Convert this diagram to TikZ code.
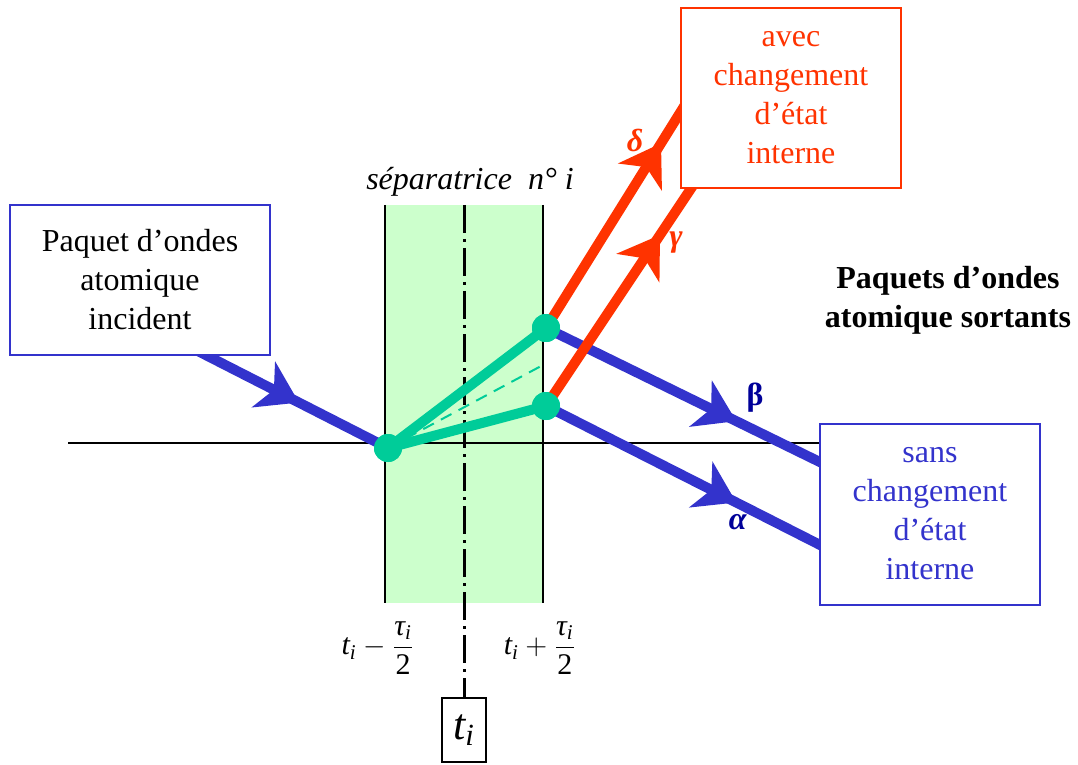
\documentclass[tikz,border=0pt]{standalone}
\usepackage{amsmath}
\usepackage{fontspec}
\setmainfont{Liberation Serif}
\usepackage{xcolor}
\usepackage{tikz}
\usetikzlibrary{arrows.meta, decorations.markings, positioning}
\definecolor{beamblue}{RGB}{51, 51, 204}
\definecolor{beamred}{RGB}{255, 51, 0}
\definecolor{dotgreen}{RGB}{0, 204, 153}
\definecolor{zonegreen}{RGB}{204, 255, 204}
\definecolor{labelblue}{RGB}{0, 0, 153}
\newcommand{\itx}[1]{\text{\itshape #1}}

\begin{document}
\begin{tikzpicture}[x=0.5pt, y=-0.5pt,
        box/.style={draw, fill=white, line width=1pt, minimum width=110pt,
                    minimum height=90pt, align=center, inner sep=0pt,
                    font=\fontsize{16}{19.5}\selectfont},
        dot/.style={circle, fill=dotgreen, minimum size=14pt, inner sep=0pt},
        beam/.style={line width=5pt},
        midarrow/.style={postaction={decorate}, decoration={markings,
            mark=at position #1 with {\arrow{Stealth[length=20pt, width=26pt, inset=6pt, line width=0pt]}}}},
        greek/.style={font=\fontsize{16}{19}\selectfont\bfseries}]
    \useasboundingbox (0,0) rectangle (1078,765);

    % zone of the separatrix
    \fill[zonegreen] (385,205) rectangle (543,603);
    \draw[line width=1pt] (385,205) -- (385,603);
    \draw[line width=1pt] (543,205) -- (543,603);
    \node[font=\fontsize{16}{19}\selectfont\itshape] (septitle) at (470,182)
          {séparatrice~~n°~i};

    \node[draw, line width=1pt, minimum width=22pt, minimum height=32pt,
          inner sep=0pt, font=\fontsize{22}{24}\selectfont] (ti) at (464,730)
          {$\itx{t}_{\itx{i}}$};
    \coordinate (axtop) at (464,205);
    \draw[line width=1.5pt, dash pattern=on 14pt off 3pt on 1.5pt off 3pt]
        (axtop) -- (ti.north);

    \node[font=\fontsize{15}{17}\selectfont] (tminus) at (378,648)
          {$\itx{t}_{\itx{i}} - \dfrac{\itx{τ}_{\itx{i}}}{\text{2}}$};
    \node[font=\fontsize{15}{17}\selectfont] (tplus) at (540,648)
          {$\itx{t}_{\itx{i}} + \dfrac{\itx{τ}_{\itx{i}}}{\text{2}}$};

    \coordinate (axstart) at (68,443);
    \coordinate (axend) at (820,443);
    \draw[line width=1pt] (axstart) -- (axend);

    % wave packets
    \coordinate (inStart) at (190,347);
    \node[dot] (A) at (388,448) {};
    \node[dot] (B) at (546,328) {};
    \node[dot] (C) at (546,406) {};
    \coordinate (outB) at (830,467);
    \coordinate (outA) at (830,550);
    \coordinate (outD) at (688,100);
    \coordinate (outG) at (698,178);

    \draw[beam, beamblue, midarrow=0.55] (inStart) -- (A.center);
    \draw[beam, beamblue, midarrow=0.67] (B.center) -- (outB);
    \draw[beam, beamblue, midarrow=0.67] (C.center) -- (outA);
    \draw[beam, beamred, midarrow=0.81] (B.center) -- (outD);
    \draw[beam, beamred, midarrow=0.75] (C.center) -- (outG);

    \draw[dotgreen, line width=1pt, dash pattern=on 6pt off 4pt] (A.center) -- (543,365);
    \draw[dotgreen, beam] (A.center) -- (B.center);
    \draw[dotgreen, beam] (A.center) -- (C.center);
    \node[dot] at (A) {};
    \node[dot] at (B) {};
    \node[dot] at (C) {};

    \node[box, draw=beamblue, minimum width=130pt, minimum height=75pt] (incident)
          at (140,280) {Paquet d’ondes\\atomique\\incident};
    \node[box, draw=beamred, text=beamred] (avec) at (791,98)
          {avec\\changement\\d’état\\interne};
    \node[box, draw=beamblue, text=beamblue, minimum height=90.5pt] (sans) at (930,514)
          {sans\\changement\\d’état\\interne};
    \node[font=\fontsize{16}{19.5}\selectfont\bfseries, align=center] (sortants) at (948,300)
          {Paquets d’ondes\\atomique sortants};

    \node[greek, text=beamred] (delta) at (635,140) {\textit{δ}};
    \node[greek, text=beamred] (gamma) at (676,243) {\textit{γ}};
    \node[greek, text=labelblue] (beta) at (755,398) {β};
    \node[greek, text=labelblue] (alpha) at (738,522) {\textit{α}};
\end{tikzpicture}
\end{document}
